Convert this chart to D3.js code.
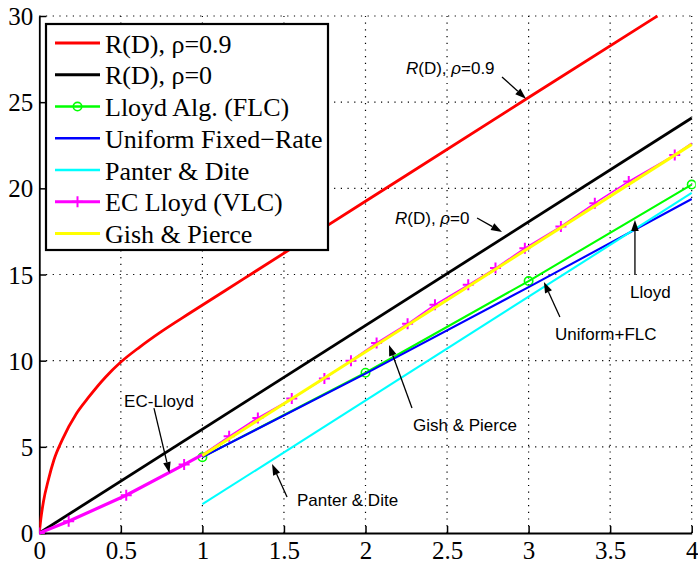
<!DOCTYPE html>
<html>
<head>
<meta charset="utf-8">
<script src="https://cdn.jsdelivr.net/npm/d3@7"></script>
<style>
  html, body { margin: 0; padding: 0; background: #fff; }
  svg { display: block; }
</style>
</head>
<body>
<svg id="chart" width="698" height="562"></svg>
<script>
// ---------------- data ----------------
const xTicks = [0, 0.5, 1, 1.5, 2, 2.5, 3, 3.5, 4];
const xTickLabels = ["0", "0.5", "1", "1.5", "2", "2.5", "3", "3.5", "4"];
const yTicks = [0, 5, 10, 15, 20, 25, 30];
const yTickLabels = ["0", "5", "10", "15", "20", "25", "30"];

// R(D), rho = 0.9
const rd09X = [0, 0.0092, 0.025, 0.0558, 0.09, 0.1412, 0.2279, 0.30, 0.4055, 0.5, 0.6157, 0.75, 0.926, 1.25, 2.0, 3.0, 3.79];
const rd09Y = [0, 0.79, 1.80, 3.09, 4.25, 5.42, 6.94, 7.85, 9.04, 9.92, 10.79, 11.70, 12.78, 14.73, 19.25, 25.27, 30.0];
// R(D), rho = 0
const rd0X = [0, 4];
const rd0Y = [0, 24.08];
// Lloyd algorithm (FLC)
const lloydX = [1, 2, 3, 4];
const lloydY = [4.40, 9.30, 14.62, 20.22];
// Uniform fixed-rate
const unifX = [1, 2, 3, 4];
const unifY = [4.40, 9.25, 14.27, 19.38];
// Panter & Dite
const panterX = [1, 4];
const panterY = [1.67, 19.73];
// EC Lloyd (VLC)
const ecX = [0, 0.18, 0.533, 0.888, 1.0, 1.164, 1.34, 1.548, 1.748, 1.911, 2.068, 2.258, 2.426, 2.63, 2.797, 2.977, 3.198, 3.406, 3.614, 3.896, 4.0];
const ecY = [0, 0.68, 2.19, 3.97, 4.55, 5.61, 6.68, 7.80, 8.96, 10.0, 11.03, 12.14, 13.25, 14.4, 15.37, 16.53, 17.79, 19.14, 20.4, 21.94, 22.62];
const ecMarked = [true, true, true, true, false, true, true, true, true, true, true, true, true, true, true, true, true, true, true, true, false];
// Gish & Pierce
const gishX = [1, 4];
const gishY = [4.49, 22.55];

const legendLabels = ["R(D), \u03C1=0.9", "R(D), \u03C1=0", "Lloyd Alg. (FLC)", "Uniform Fixed\u2212Rate", "Panter & Dite", "EC Lloyd (VLC)", "Gish & Pierce"];

// annotations: text anchor, arrow tail, arrow head (data coordinates)
const annotations = [
  { parts: [["R", true], ["(D), ", false], ["\u03C1", true], ["=0.9", false]], tx: 2.248, ty: 26.64, ax: 2.837, ay: 26.46, hx: 2.984, hy: 25.2 },
  { parts: [["R", true], ["(D), ", false], ["\u03C1", true], ["=0", false]],   tx: 2.181, ty: 17.93, ax: 2.684, ay: 18.28, hx: 2.837, hy: 17.47 },
  { parts: [["Lloyd", false]],         tx: 3.622, ty: 13.64, ax: 3.652, ay: 14.97, hx: 3.652, hy: 18.16 },
  { parts: [["Uniform+FLC", false]],   tx: 3.162, ty: 11.2,  ax: 3.192, ay: 12.53, hx: 3.094, hy: 14.57 },
  { parts: [["Gish & Pierce", false]], tx: 2.291, ty: 5.92,  ax: 2.285, ay: 7.25,  hx: 2.144, hy: 10.91 },
  { parts: [["EC-Lloyd", false]],      tx: 0.520, ty: 7.31,  ax: 0.703, ay: 7.25,  hx: 0.798, hy: 3.48 },
  { parts: [["Panter & Dite", false]], tx: 1.580, ty: 1.57,  ax: 1.519, ay: 2.09,  hx: 1.427, hy: 4.0 }
];

// ---------------- drawing ----------------
const svg = d3.select("#chart");
const x = d3.scaleLinear().domain([0, 4]).range([39.3, 691.7]);
const y = d3.scaleLinear().domain([0, 30]).range([533, 16]);

const serif = "'Liberation Serif', 'Times New Roman', serif";
const sans = "'Liberation Sans', Arial, Helvetica, sans-serif";

svg.append("defs").append("clipPath").attr("id", "plotclip")
  .append("rect").attr("x", x(0)).attr("y", y(30) - 2)
  .attr("width", x(4) - x(0) + 4).attr("height", y(0) - y(30) + 4);

// grid
const grid = svg.append("g");
grid.selectAll("line.gx").data(xTicks.filter(d => d > 0)).join("line")
  .attr("x1", d => x(d)).attr("x2", d => x(d))
  .attr("y1", y(0)).attr("y2", y(30))
  .attr("stroke", "#000").attr("stroke-width", 1.2).attr("stroke-dasharray", "1.2,5.5");
grid.selectAll("line.gy").data(yTicks.filter(d => d > 0)).join("line")
  .attr("x1", x(0)).attr("x2", x(4))
  .attr("y1", d => y(d)).attr("y2", d => y(d))
  .attr("stroke", "#000").attr("stroke-width", 1.2).attr("stroke-dasharray", "1.2,5.5");

// axes
const xAxis = d3.axisBottom(x).tickValues(xTicks).tickFormat((d, i) => xTickLabels[i]).tickSizeInner(-7).tickSizeOuter(0).tickPadding(13);
const yAxis = d3.axisLeft(y).tickValues(yTicks).tickFormat((d, i) => yTickLabels[i]).tickSizeInner(-7).tickSizeOuter(0).tickPadding(13);

const gx = svg.append("g").attr("transform", `translate(0,${y(0)})`).call(xAxis);
const gy = svg.append("g").attr("transform", `translate(${x(0)},0)`).call(yAxis);
[gx, gy].forEach(g => {
  g.select(".domain").attr("stroke", "#000").attr("stroke-width", 1.8);
  g.selectAll(".tick line").attr("stroke", "#000").attr("stroke-width", 1.5);
  g.selectAll(".tick text").attr("font-family", serif).attr("font-size", 25).attr("fill", "#000");
});
gx.selectAll(".tick text").attr("dy", null).attr("y", 26);
gy.selectAll(".tick text").attr("dy", "0.34em").attr("x", -6);

// lines
const plot = svg.append("g").attr("clip-path", "url(#plotclip)");
const lineGen = d3.line().x(d => x(d[0])).y(d => y(d[1]));
const zipXY = (xs, ys) => xs.map((v, i) => [v, ys[i]]);

plot.append("path").datum(zipXY(rd09X, rd09Y)).attr("d", lineGen.curve(d3.curveMonotoneX))
  .attr("fill", "none").attr("stroke", "#ff0000").attr("stroke-width", 2.8);
lineGen.curve(d3.curveLinear);
plot.append("path").datum(zipXY(rd0X, rd0Y)).attr("d", lineGen)
  .attr("fill", "none").attr("stroke", "#000").attr("stroke-width", 2.8);
plot.append("path").datum(zipXY(lloydX, lloydY)).attr("d", lineGen)
  .attr("fill", "none").attr("stroke", "#00ff00").attr("stroke-width", 2.1);
plot.selectAll("circle.lloyd").data(zipXY(lloydX, lloydY)).join("circle")
  .attr("cx", d => x(d[0])).attr("cy", d => y(d[1])).attr("r", 4.2)
  .attr("fill", "none").attr("stroke", "#00ff00").attr("stroke-width", 1.6);
plot.append("path").datum(zipXY(unifX, unifY)).attr("d", lineGen)
  .attr("fill", "none").attr("stroke", "#0000ff").attr("stroke-width", 2.1);
plot.append("path").datum(zipXY(panterX, panterY)).attr("d", lineGen)
  .attr("fill", "none").attr("stroke", "#00ffff").attr("stroke-width", 2.1);

const ecPts = zipXY(ecX, ecY);
plot.append("path").datum(ecPts.filter(d => d[0] <= 1.0)).attr("d", lineGen)
  .attr("fill", "none").attr("stroke", "#ff00ff").attr("stroke-width", 3.2);
plot.append("path").datum(ecPts.filter(d => d[0] >= 1.0)).attr("d", lineGen)
  .attr("fill", "none").attr("stroke", "#ff00ff").attr("stroke-width", 1.6);
const plusPath = s => `M${-s},0H${s}M0,${-s}V${s}`;
plot.selectAll("path.plus").data(ecPts.filter((d, i) => ecMarked[i])).join("path")
  .attr("transform", d => `translate(${x(d[0])},${y(d[1])})`)
  .attr("d", plusPath(5.5)).attr("fill", "none").attr("stroke", "#ff00ff").attr("stroke-width", 2);

plot.append("path").datum(zipXY(gishX, gishY)).attr("d", lineGen)
  .attr("fill", "none").attr("stroke", "#ffff00").attr("stroke-width", 3);

// annotations
const ann = svg.append("g");
annotations.forEach(a => {
  const t = ann.append("text").attr("x", x(a.tx)).attr("y", y(a.ty))
    .attr("font-family", sans).attr("font-size", 17).attr("fill", "#000");
  a.parts.forEach(p => t.append("tspan").text(p[0]).attr("font-style", p[1] ? "italic" : "normal"));
  const x1 = x(a.ax), y1 = y(a.ay), x2 = x(a.hx), y2 = y(a.hy);
  const ang = Math.atan2(y2 - y1, x2 - x1);
  const L = 11, Wd = 3.8;
  const bx = x2 - L * Math.cos(ang), by = y2 - L * Math.sin(ang);
  ann.append("line").attr("x1", x1).attr("y1", y1).attr("x2", bx).attr("y2", by)
    .attr("stroke", "#000").attr("stroke-width", 1.3);
  const p1 = [bx + Wd * Math.sin(ang), by - Wd * Math.cos(ang)];
  const p2 = [bx - Wd * Math.sin(ang), by + Wd * Math.cos(ang)];
  ann.append("path").attr("d", `M${x2},${y2}L${p1[0]},${p1[1]}L${p2[0]},${p2[1]}Z`).attr("fill", "#000");
});

// legend
const legendStyles = [
  { c: "#ff0000", w: 3, m: null },
  { c: "#000000", w: 3, m: null },
  { c: "#00ff00", w: 2.5, m: "circle" },
  { c: "#0000ff", w: 2.5, m: null },
  { c: "#00ffff", w: 2.5, m: null },
  { c: "#ff00ff", w: 3, m: "plus" },
  { c: "#ffff00", w: 3, m: null }
];
const leg = svg.append("g");
leg.append("rect").attr("x", 46).attr("y", 24).attr("width", 282).attr("height", 226)
  .attr("fill", "#fff").attr("stroke", "#000").attr("stroke-width", 2.2);
legendLabels.forEach((lab, i) => {
  const ry = 43 + i * 31.77;
  const s = legendStyles[i];
  leg.append("line").attr("x1", 55).attr("x2", 100).attr("y1", ry).attr("y2", ry)
    .attr("stroke", s.c).attr("stroke-width", s.w);
  if (s.m === "circle") {
    leg.append("circle").attr("cx", 77.5).attr("cy", ry).attr("r", 4.2)
      .attr("fill", "none").attr("stroke", s.c).attr("stroke-width", 1.6);
  } else if (s.m === "plus") {
    leg.append("path").attr("transform", `translate(77.5,${ry})`).attr("d", plusPath(5.5))
      .attr("stroke", s.c).attr("stroke-width", 2).attr("fill", "none");
  }
  leg.append("text").attr("x", 105).attr("y", ry + 9.5)
    .attr("font-family", serif).attr("font-size", 26).attr("fill", "#000").text(lab);
});
</script>
</body>
</html>
